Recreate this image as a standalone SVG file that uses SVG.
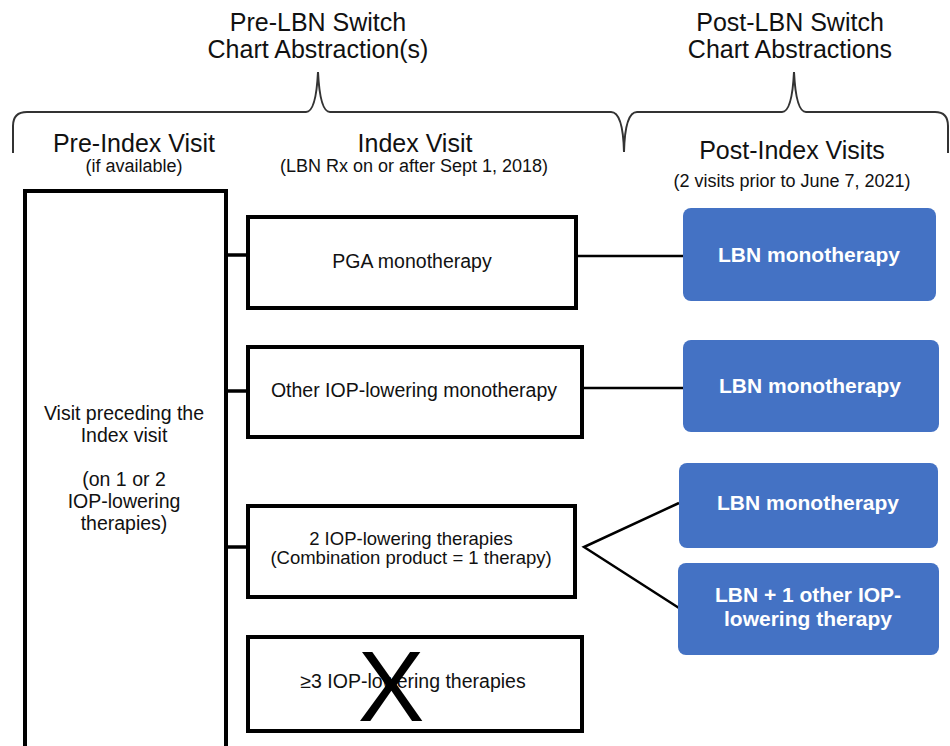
<svg xmlns="http://www.w3.org/2000/svg" width="950" height="746" viewBox="0 0 950 746">
<style>
text{font-family:"Liberation Sans",Arial,sans-serif;fill:#111;text-anchor:middle}
.h{font-size:25px}
.s{font-size:18px}
.b{font-size:19.5px}
.c{font-size:18.5px}
.box{fill:#fff;stroke:#000;stroke-width:4}
.blue{fill:#4472C4;stroke:none}
.w{fill:#fff;font-size:21px;font-weight:bold}
.con{stroke:#000;stroke-width:2.5;fill:none}
.lc{stroke:#000;stroke-width:3.5;fill:none}
.brace{stroke:#333;stroke-width:2;fill:none}
</style>
<rect width="950" height="746" fill="#fff"/>
<g id="headers">
<text class="h" x="318" y="31">Pre-LBN Switch</text>
<text class="h" x="318" y="58">Chart Abstraction(s)</text>
<text class="h" x="790" y="31">Post-LBN Switch</text>
<text class="h" x="790" y="58">Chart Abstractions</text>
<path class="brace" d="M13,153 L13,126 Q13,112 27,112 L306,112 Q316,112 318,72 Q320,112 330,112 L611,112 Q623,112 624,152 Q625,112 637,112 L782,112 Q792,112 794,72 Q796,112 806,112 L935,112 Q948,112 948,126 L948,153"/>
<text class="h" x="134" y="152">Pre-Index Visit</text>
<text class="s" x="134" y="172">(if available)</text>
<text class="h" x="415" y="152">Index Visit</text>
<text class="s" x="414" y="172">(LBN Rx on or after Sept 1, 2018)</text>
<text class="h" x="792" y="159">Post-Index Visits</text>
<text class="s" x="792" y="187">(2 visits prior to June 7, 2021)</text>
</g>
<g id="connectors">
<line class="lc" x1="226" y1="255" x2="248" y2="255"/>
<line class="lc" x1="226" y1="391" x2="248" y2="391"/>
<line class="lc" x1="226" y1="547" x2="248" y2="547"/>
<line class="con" x1="578" y1="256" x2="683" y2="256"/>
<line class="con" x1="584" y1="388" x2="683" y2="388"/>
<polyline class="con" points="679,503 584,547 679,608"/>
</g>
<g id="pre-index">
<rect class="box" x="25" y="191" width="201" height="580"/>
<text class="b" x="124" y="420">Visit preceding the</text>
<text class="b" x="124" y="442">Index visit</text>
<text class="b" x="124" y="486">(on 1 or 2</text>
<text class="b" x="124" y="508">IOP-lowering</text>
<text class="b" x="124" y="530">therapies)</text>
</g>
<g id="pga">
<rect class="box" x="248" y="217" width="328" height="91"/>
<text class="b" x="412" y="268">PGA monotherapy</text>
</g>
<g id="other">
<rect class="box" x="248" y="347" width="334" height="90"/>
<text class="b" x="414" y="397">Other IOP-lowering monotherapy</text>
</g>
<g id="two">
<rect class="box" x="248" y="506" width="327" height="91"/>
<text class="c" x="411" y="545">2 IOP-lowering therapies</text>
<text class="c" x="411" y="564">(Combination product = 1 therapy)</text>
</g>
<g id="three">
<rect class="box" x="248" y="637" width="334" height="94"/>
<text class="b" x="413" y="688">≥3 IOP-lowering therapies</text>
<text x="391" y="721" style="font-size:100px;fill:#000">X</text>
</g>
<g id="post1">
<rect class="blue" x="683" y="208" width="253" height="93" rx="8"/>
<text class="w" x="809" y="262">LBN monotherapy</text>
</g>
<g id="post2">
<rect class="blue" x="683" y="340" width="256" height="92" rx="8"/>
<text class="w" x="810" y="393">LBN monotherapy</text>
</g>
<g id="post3">
<rect class="blue" x="679" y="463" width="259" height="85" rx="8"/>
<text class="w" x="808" y="510">LBN monotherapy</text>
</g>
<g id="post4">
<rect class="blue" x="678" y="563" width="261" height="92" rx="8"/>
<text class="w" x="808" y="602">LBN + 1 other IOP-</text>
<text class="w" x="808" y="626">lowering therapy</text>
</g>
</svg>
